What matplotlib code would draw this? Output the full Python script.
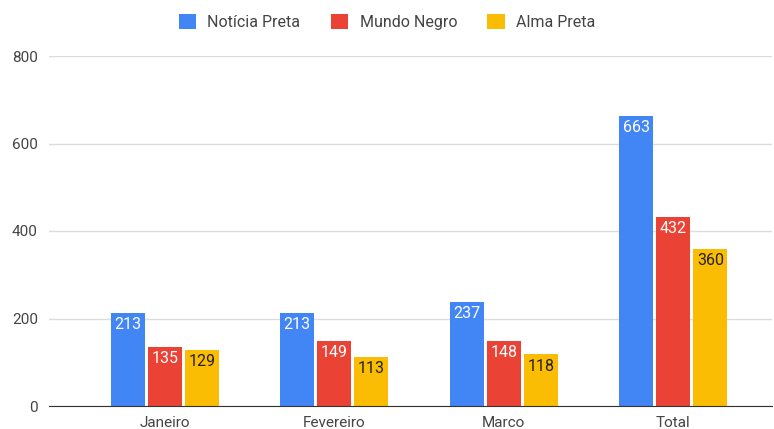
import matplotlib
matplotlib.use("Agg")
import matplotlib.pyplot as plt
import numpy as np

plt.rcParams['font.family'] = ['Roboto', 'DejaVu Sans']

# data
categories = ['Janeiro', 'Fevereiro', 'Marco', 'Total']
noticia_preta = [213, 213, 237, 663]
mundo_negro = [135, 149, 148, 432]
alma_preta = [129, 113, 118, 360]

series = [
    ('Notícia Preta', noticia_preta, '#4285F4', 'white'),
    ('Mundo Negro', mundo_negro, '#EA4335', 'white'),
    ('Alma Preta', alma_preta, '#FBBC04', '#222222'),
]


def drawit():
    fig = plt.figure(figsize=(7.74, 4.29), dpi=100)
    ax = fig.add_axes([49 / 774, 23 / 429, 723 / 774, 350 / 429])

    x = np.arange(len(categories))
    width = 0.2
    step = 0.219

    for i, (name, vals, color, txtcolor) in enumerate(series):
        pos = x + (i - 1) * step
        bars = ax.bar(pos, vals, width=width, color=color, label=name, zorder=3)
        for b, v in zip(bars, vals):
            ax.annotate(str(v), (b.get_x() + b.get_width() / 2, v),
                        xytext=(0, -3), textcoords='offset points',
                        ha='center', va='top', fontsize=11.5,
                        color=txtcolor, zorder=4)

    ax.set_ylim(0, 800)
    ax.set_xlim(-0.683, 3.583)
    ax.set_yticks([0, 200, 400, 600, 800])
    ax.set_xticks(x)
    ax.set_xticklabels(categories)
    ax.tick_params(axis='both', length=0, labelsize=11, colors='#444444')
    ax.tick_params(axis='y', pad=8)
    ax.tick_params(axis='x', pad=7)
    ax.grid(axis='y', color='#dddddd', linewidth=1, zorder=0)
    for s in ['top', 'right', 'left']:
        ax.spines[s].set_visible(False)
    ax.spines['bottom'].set_color('#333333')
    ax.spines['bottom'].set_zorder(5)

    fig.legend(loc='center', bbox_to_anchor=(0.5, 1 - 22 / 429), ncol=3,
               frameon=False, fontsize=11.5, handlelength=1.1, handleheight=1.1,
               handletextpad=0.7, columnspacing=1.9, labelcolor='#444444')

    fig.savefig('out.png', dpi=100)
    plt.close(fig)


if __name__ == '__main__':
    drawit()
